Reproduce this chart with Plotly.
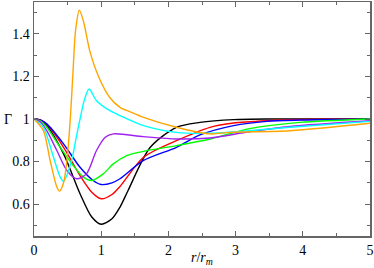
import plotly.graph_objects as go

# ---- data ----
black_x = [0, 0.1, 0.19, 0.44, 0.685, 0.86, 1.0, 1.16, 1.28, 1.40, 1.73, 2.12, 2.47, 2.97, 3.5, 4.0, 5.0]
black_y = [1.0, 0.995, 0.97, 0.836, 0.649, 0.539, 0.505, 0.531, 0.586, 0.664, 0.867, 0.961, 0.984, 0.997, 1.0, 1.0, 1.0]

red_x = [0, 0.1, 0.19, 0.44, 0.685, 0.86, 1.0, 1.16, 1.28, 1.63, 2.12, 2.62, 2.97, 3.46, 4.0, 5.0]
red_y = [1.0, 0.995, 0.975, 0.867, 0.734, 0.656, 0.625, 0.645, 0.683, 0.82, 0.898, 0.961, 0.981, 0.992, 0.998, 1.0]

blue_x = [0, 0.1, 0.19, 0.44, 0.685, 0.88, 1.0, 1.16, 1.28, 1.63, 2.12, 2.47, 2.97, 3.46, 3.96, 5.0]
blue_y = [1.0, 0.995, 0.977, 0.883, 0.773, 0.711, 0.692, 0.70, 0.719, 0.805, 0.867, 0.925, 0.969, 0.989, 0.995, 1.0]

green_x = [0, 0.1, 0.19, 0.39, 0.585, 0.735, 0.86, 1.03, 1.18, 1.38, 1.63, 2.12, 2.62, 3.21, 3.96, 5.0]
green_y = [1.0, 0.99, 0.961, 0.867, 0.781, 0.727, 0.711, 0.742, 0.789, 0.828, 0.848, 0.875, 0.906, 0.955, 0.984, 1.0]

purple_x = [0, 0.1, 0.19, 0.34, 0.49, 0.635, 0.78, 0.93, 1.06, 1.18, 1.63, 2.12, 2.62, 3.2, 3.81, 5.0]
purple_y = [1.0, 0.985, 0.945, 0.852, 0.758, 0.719, 0.742, 0.852, 0.914, 0.93, 0.917, 0.906, 0.911, 0.94, 0.965, 0.992]

cyan_x = [0, 0.14, 0.29, 0.39, 0.44, 0.56, 0.62, 0.685, 0.75, 0.82, 0.93, 1.13, 1.28, 1.63, 2.12, 2.62, 3.2, 3.81, 5.0]
cyan_y = [1.0, 0.961, 0.82, 0.727, 0.708, 0.805, 0.90, 1.0, 1.09, 1.141, 1.086, 1.039, 1.016, 0.969, 0.937, 0.933, 0.945, 0.961, 0.989]

orange_x = [0, 0.14, 0.24, 0.34, 0.38, 0.44, 0.49, 0.54, 0.58, 0.62, 0.675, 0.735, 0.83, 0.96, 1.13, 1.28, 1.43, 1.63, 2.12, 2.62, 2.92, 3.81, 5.0]
orange_y = [1.0, 0.945, 0.805, 0.68, 0.661, 0.70, 0.805, 1.00, 1.22, 1.42, 1.511, 1.461, 1.32, 1.2, 1.10, 1.055, 1.034, 1.008, 0.961, 0.93, 0.937, 0.945, 0.98]

x_ticks = [0, 1, 2, 3, 4, 5]
x_tick_labels = ["0", "1", "2", "3", "4", "5"]
y_ticks = [0.6, 0.8, 1.0, 1.2, 1.4]
y_tick_labels = ["0.6", "0.8", "1", "1.2", "1.4"]

series = [
    (black_x, black_y, "#000000"),
    (red_x, red_y, "#ff0000"),
    (blue_x, blue_y, "#0000ff"),
    (green_x, green_y, "#00ff00"),
    (purple_x, purple_y, "#a020f0"),
    (cyan_x, cyan_y, "#00ffff"),
    (orange_x, orange_y, "#ffa500"),
]

fig = go.Figure()
for xs, ys, col in series:
    fig.add_trace(go.Scatter(x=xs, y=ys, mode="lines",
                             line=dict(color=col, width=1.4, shape="spline", smoothing=0.8),
                             showlegend=False, hoverinfo="skip"))

font = dict(family="Liberation Serif", size=14, color="#000")
axis_common = dict(showgrid=False, zeroline=False, showline=True, linecolor="#666",
                   linewidth=1.5, mirror="allticks", ticks="inside", ticklen=5,
                   tickcolor="#666", tickwidth=1, tickfont=font, automargin=False)

fig.update_xaxes(range=[0, 5], tickvals=x_ticks, ticktext=x_tick_labels, ticklabelstandoff=1,
                 minor=dict(dtick=0.5, tick0=0, ticks="inside", ticklen=3, tickcolor="#666"),
                 **axis_common)
fig.update_yaxes(range=[0.45, 1.55], tickvals=y_ticks, ticktext=y_tick_labels,
                 minor=dict(dtick=0.1, tick0=0.5, ticks="inside", ticklen=3, tickcolor="#666"),
                 **axis_common)

fig.add_annotation(text="<i>r</i>/<i>r<sub>m</sub></i>", xref="paper", yref="paper",
                   x=0.5, y=0, yshift=-12, yanchor="top", xanchor="center",
                   showarrow=False, font=dict(family=font["family"], size=14, color="#000"))
fig.add_annotation(text="Γ", xref="paper", yref="paper",
                   x=0, xshift=-26, y=0.5, xanchor="center", yanchor="middle",
                   showarrow=False, font=font)

fig.update_layout(width=374, height=268, margin=dict(l=34, r=4, t=2, b=32),
                  plot_bgcolor="white", paper_bgcolor="white", font=font)

fig.write_html("out.html", config={"displayModeBar": False, "staticPlot": True},
               post_script="document.body.style.margin='0';document.body.style.padding='0';"
                           "document.documentElement.style.overflow='hidden';")
